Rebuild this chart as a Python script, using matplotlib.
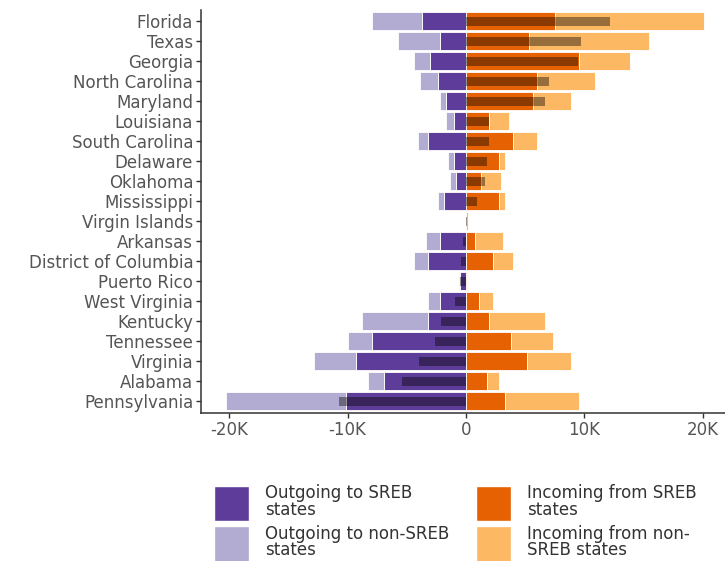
import matplotlib
matplotlib.use("Agg")
import matplotlib.pyplot as plt
import numpy as np
from matplotlib.patches import Patch

states = ["Florida", "Texas", "Georgia", "North Carolina", "Maryland", "Louisiana",
          "South Carolina", "Delaware", "Oklahoma", "Mississippi", "Virgin Islands",
          "Arkansas", "District of Columbia", "Puerto Rico", "West Virginia",
          "Kentucky", "Tennessee", "Virginia", "Alabama", "Pennsylvania"]
# values in thousands
out_sreb = [3.74, 2.2, 3.04, 2.39, 1.69, 1.01, 3.2, 1.0, 0.84, 1.86, 0.01,
            2.19, 3.2, 0.53, 2.19, 3.2, 7.9, 9.26, 6.9, 10.1]
out_non = [4.16, 3.54, 1.35, 1.49, 0.5, 0.68, 0.85, 0.52, 0.51, 0.5, 0.01,
           1.18, 1.19, 0.09, 1.01, 5.55, 2.03, 3.54, 1.34, 10.2]
in_sreb = [7.5, 5.35, 9.54, 6.0, 5.7, 1.94, 4.0, 2.84, 1.32, 2.84, 0.05,
           0.8, 2.3, 0.08, 1.13, 1.97, 3.83, 5.18, 1.8, 3.32]
in_non = [12.6, 10.1, 4.36, 4.9, 3.16, 1.72, 2.0, 0.48, 1.68, 0.48, 0.1,
          2.35, 1.7, 0.06, 1.17, 4.7, 3.51, 3.68, 1.01, 6.22]

xticks = [-20, -10, 0, 10, 20]
xticklabels = ["-20K", "-10K", "0", "10K", "20K"]

c_out_s = "#5e3c99"
c_out_n = "#b2abd2"
c_in_s = "#e66101"
c_in_n = "#fdb863"

plt.rcParams['font.family'] = ['DejaVu Sans']

fig = plt.figure(figsize=(7.25, 5.61), dpi=100)
ax = fig.add_axes([0.277, 0.264, 0.723, 0.718])

y = np.arange(len(states))
os_ = np.array(out_sreb)
on_ = np.array(out_non)
is_ = np.array(in_sreb)
in_ = np.array(in_non)
net = (is_ + in_) - (os_ + on_)

h = 0.9
ax.barh(y, -os_, height=h, color=c_out_s, edgecolor="white", linewidth=0.6, zorder=2)
ax.barh(y, -on_, left=-os_, height=h, color=c_out_n, edgecolor="white", linewidth=0.6, zorder=2)
ax.barh(y, is_, height=h, color=c_in_s, edgecolor="white", linewidth=0.6, zorder=2)
ax.barh(y, in_, left=is_, height=h, color=c_in_n, edgecolor="white", linewidth=0.6, zorder=2)
ax.barh(y, net, height=0.42, color="black", alpha=0.4, linewidth=0, zorder=3)

ax.set_yticks(y)
ax.set_yticklabels(states)
ax.set_ylim(len(states) - 1 + 0.57, -0.57)
ax.set_xticks(xticks)
ax.set_xticklabels(xticklabels)
ax.set_xlim(-22.4, 21.9)

for s in ["top", "right"]:
    ax.spines[s].set_visible(False)
for s in ["left", "bottom"]:
    ax.spines[s].set_color("#333333")
    ax.spines[s].set_linewidth(1.1)
ax.tick_params(axis="both", colors="#333333", labelcolor="#555555", labelsize=12, length=3.5, width=1, pad=2)

handles = [Patch(facecolor=c_out_s, edgecolor="white"),
           Patch(facecolor=c_out_n, edgecolor="white"),
           Patch(facecolor=c_in_s, edgecolor="white"),
           Patch(facecolor=c_in_n, edgecolor="white")]
labels = ["Outgoing to SREB\nstates", "Outgoing to non-SREB\nstates",
          "Incoming from SREB\nstates", "Incoming from non-\nSREB states"]
leg = fig.legend(handles, labels, ncol=2, loc="lower left", bbox_to_anchor=(0.284, -0.016),
                 frameon=False, fontsize=12, handlelength=2.1, handleheight=2.9,
                 labelspacing=0.2, columnspacing=1.6, handletextpad=0.95, borderpad=0.0)
for t in leg.get_texts():
    t.set_color("#333333")
    t.set_linespacing(0.9)

fig.savefig("out.png", dpi=100)
